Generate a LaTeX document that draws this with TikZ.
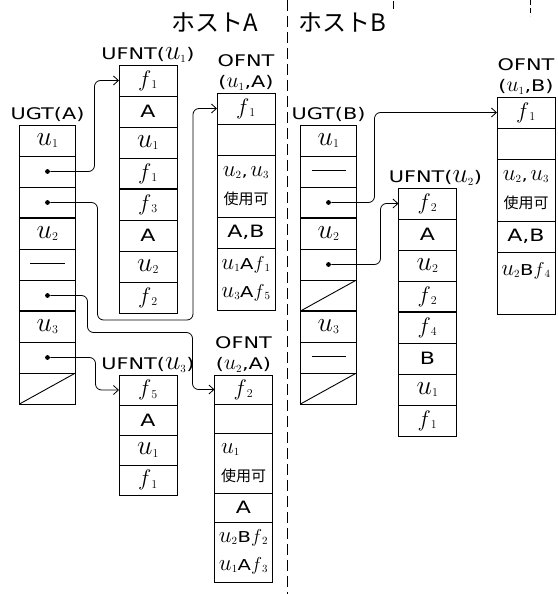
\documentclass[tikz,border=0pt]{standalone}
\usepackage{fontspec}
\usepackage{graphicx}
\newfontfamily\jpfont{Noto Sans CJK JP}
\newfontfamily\hand[FakeStretch=1.3]{DejaVu Sans}
\usetikzlibrary{arrows.meta,positioning}
\newcommand{\nilbar}{\rule[0.3ex]{34pt}{0.8pt}}
\newcommand{\usr}[1]{\scalebox{1.6}{$u$}$_{#1}$}
\newcommand{\lusr}[1]{\scalebox{1.25}{$u$}$_{#1}$}
\newcommand{\fil}[1]{\scalebox{1.3}{$f$}$_{#1}$}

\begin{document}
\begin{tikzpicture}[x=1pt, y=-1pt, line width=0.9pt,
  >={Straight Barb[length=5pt,width=9pt]},
  font=\hand\fontsize{17}{19}\selectfont,
  cell/.style={draw, anchor=north, minimum width=58pt, minimum height=31pt,
    inner sep=0pt, outer sep=0pt, align=center},
  dbl/.style={cell, minimum height=62pt, font=\hand\fontsize{15}{28}\selectfont},
  ptr/.style={circle, fill, inner sep=1.7pt},
  lbl/.style={font=\hand\fontsize{16}{19}\selectfont, align=center, inner sep=1pt},
  host/.style={font=\jpfont\fontsize{24}{26}\selectfont},
  link/.style={->, rounded corners=6pt, line width=0.8pt},
  sep/.style={line width=2pt}]
\useasboundingbox (0,0) rectangle (557,594);

% host border
\draw[dash pattern=on 11pt off 5pt] (287,0) -- (287,594);
\draw[dash pattern=on 5pt off 3pt] (530,0) -- (530,16);
\draw (393,1) -- (393,9);
\node[host] (hosta) at (215,22) {ホストA};
\node[host] (hostb) at (342,22) {ホストB};

% host A
\foreach \txt [count=\i] in {\usr1,{},{},\usr2,\nilbar,{},\usr3,{},{}}
  \node[cell, minimum width=56pt] (ga\i) at (47.5,{125+31*(\i-1)}) {\txt};
\node[lbl, above=2pt of ga1] {UGT(A)};
\foreach \n in {2,3,6,8} \node[ptr] (ga\n p) at (ga\n) {};
\draw (ga9.south west) -- (ga9.north east);

\foreach \txt [count=\i] in {\fil1,A,\usr1,\fil1,\fil3,A,\usr2,\fil2}
  \node[cell] (ufa\i) at (148,{65+31*(\i-1)}) {\txt};
\node[lbl, above=1pt of ufa1] {UFNT(\usr1)};

\foreach \txt [count=\i] in {\fil5,A,\usr1,\fil1}
  \node[cell, minimum height=30pt] (ufc\i) at (148,{375+30*(\i-1)}) {\txt};
\node[lbl, above=1pt of ufc1] {UFNT(\usr3)};

\node[cell] (oa1) at (246,93) {\fil1};
\node[cell, below=0pt of oa1] (oa2) {};
\node[dbl, below=0pt of oa2] (oa3) {\usr2,\,\usr3\\{\jpfont 使用可}};
\node[cell, below=0pt of oa3] (oa4) {A,B};
\node[dbl, below=0pt of oa4] (oa5) {\usr1A\fil1\\\usr3A\fil5};
\node[lbl, above=1pt of oa1] (oak) {(\lusr1,A)};
\node[lbl, above=6pt of oak] {OFNT};

\node[cell, minimum height=29pt] (oc1) at (243.5,375) {\fil2};
\node[cell, minimum height=29pt, below=0pt of oc1] (oc2) {};
\node[dbl, minimum height=60pt, align=left, below=0pt of oc2] (oc3) {\usr1\\{\jpfont 使用可}};
\node[cell, minimum height=29pt, below=0pt of oc3] (oc4) {A};
\node[dbl, minimum height=60pt, below=0pt of oc4] (oc5) {\usr2B\fil2\\\usr1A\fil3};
\node[lbl, above=1pt of oc1] (ock) {(\lusr2,A)};
\node[lbl, above=6pt of ock] {OFNT};

% host B
\foreach \txt [count=\i] in {\usr1,\nilbar,{},\usr2,{},{},\usr3,\nilbar,{}}
  \node[cell, minimum width=56pt] (gb\i) at (328.5,{125+31*(\i-1)}) {\txt};
\node[lbl, above=2pt of gb1] {UGT(B)};
\foreach \n in {3,5} \node[ptr] (gb\n p) at (gb\n) {};
\foreach \n in {6,9} \draw (gb\n.south west) -- (gb\n.north east);

\foreach \txt [count=\i] in {\fil2,A,\usr2,\fil2,\fil4,B,\usr1,\fil1}
  \node[cell] (ufb\i) at (427.5,{188+31*(\i-1)}) {\txt};
\node[lbl, above=1pt of ufb1, xshift=8pt] {UFNT(\usr2)};

\node[cell] (ob1) at (526,97) {\fil1};
\node[cell, below=0pt of ob1] (ob2) {};
\node[dbl, below=0pt of ob2] (ob3) {\usr2,\,\usr3\\{\jpfont 使用可}};
\node[cell, below=0pt of ob3] (ob4) {A,B};
\node[dbl, below=0pt of ob4] (ob5) {\usr2B\fil4\\\mbox{}};
\node[lbl, above=1pt of ob1] (obk) {(\lusr1,B)};
\node[lbl, above=6pt of obk] {OFNT};

% group separators
\foreach \n in {ga3,ga6,ufa4,gb3,gb6,ufb4}
  \draw[sep] (\n.south west) -- (\n.south east);

% pointers
\draw[link] (ga2p) -- ++(47,0) |- (ufa1.west);
\draw[link] (ga3p) -- ++(50,0) |- ([shift={(-24,10)}]oa5.south west) |- (oa1.west);
\draw[link] (ga6p) -- ++(40,0) -- ++(0,37) -| ([xshift=-22pt]oc1.west) -- (oc1.west);
\draw[link] (ga8p) -- ++(48,0) |- (ufc1.west);
\draw[link] (gb3p) -- ++(46,0) |- (ob1.west);
\draw[link] (gb5p) -- ++(52,0) |- (ufb1.west);
\end{tikzpicture}
\end{document}
